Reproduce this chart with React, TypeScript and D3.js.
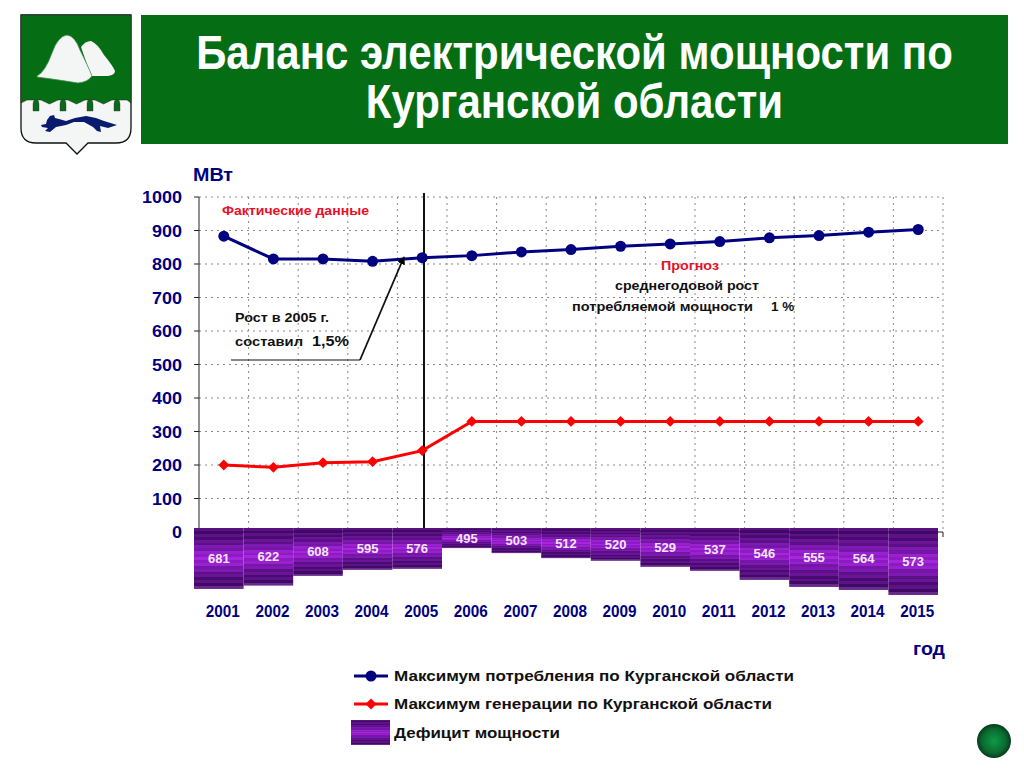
import React, { useLayoutEffect, useRef } from 'react';
import * as d3 from 'd3';

const years = ['2001','2002','2003','2004','2005','2006','2007','2008','2009','2010','2011','2012','2013','2014','2015'];
const consumption = [883, 815, 815, 808, 819, 825, 836, 843, 853, 860, 867, 878, 885, 895, 903];
const generation = [200, 193, 207, 210, 243, 330, 330, 330, 330, 330, 330, 330, 330, 330, 330];
const deficit = [681, 622, 608, 595, 576, 495, 503, 512, 520, 529, 537, 546, 555, 564, 573];
// how deep each deficit block is drawn below the zero line, in axis units (not to scale with its label)
const deficitDrawn = [170, 160, 131, 113, 110, 48, 63, 78, 86, 104, 116, 143, 164, 173, 188];
const yTicks = [0, 100, 200, 300, 400, 500, 600, 700, 800, 900, 1000];
const titleLines = ['Баланс электрической мощности по', 'Курганской области'];

const plotLeft = 199;
const plotRight = 943;
const yZero = 532;
const yTop = 197;

const x = d3.scaleBand<string>().domain(years).range([plotLeft, plotRight]);
const y = d3.scaleLinear().domain([0, 1000]).range([yZero, yTop]);
const cx = (i: number) => (x(years[i]) as number) + x.bandwidth() / 2;

const line = d3.line<number>().x((_, i) => cx(i)).y(d => y(d));
const navy = '#000080';
const sans = '"Liberation Sans", Arial, sans-serif';
const diamond = d3.symbol(d3.symbolDiamond2, 75)() as string;

// stripes of the deficit blocks: dark at the edges, bright in the middle
const stripeColors = ['#5a1080','#3f0a66','#5f1288','#480c70','#6c1498','#5c1086','#8018b4','#7416a6','#9a20d0','#8c1cc2','#a626dc','#8c1cc2','#9a20d0','#7416a6','#8018b4','#5c1086','#6c1498','#480c70','#5f1288','#3f0a66','#6a2a8c'];

const StripeGradient = ({ id }: { id: string }) => (
  <linearGradient id={id} x1="0" y1="0" x2="0" y2="1">
    {stripeColors.flatMap((c, i) => [
      <stop key={i + 'a'} offset={i / stripeColors.length} stopColor={c} />,
      <stop key={i + 'b'} offset={(i + 1) / stripeColors.length} stopColor={c} />,
    ])}
  </linearGradient>
);

// the original title font is a narrow one, so squeeze the two lines to the wanted width
const Title = ({ width }: { width: number }) => {
  const ref = useRef<SVGTextElement>(null);
  useLayoutEffect(() => {
    if (!ref.current) return;
    const k = width / ref.current.getComputedTextLength();
    ref.current.setAttribute('transform', `translate(574.5,69) scale(${k},1)`);
  }, [width]);
  return (
    <text ref={ref} textAnchor="middle" fill="#fff" fontWeight="bold" fontSize={49} transform="translate(574.5,69) scale(0.75,1)">
      <tspan x={0}>{titleLines[0]}</tspan>
      <tspan x={0} dy={49}>{titleLines[1]}</tspan>
    </text>
  );
};

const CoatOfArms = () => (
  <g>
    <path d="M21 15H131V128Q131 143 116 143H88L77 154L66 143H36Q21 143 21 128Z" fill="#f4f6f6" stroke="#111" strokeWidth="1.3" />
    <path d="M21 15H131V103L127 100H122L117 100H112L103.5 104L95 100H85L76.5 104L68 100H58L49.5 104L41 100H31L27 100L21 103Z" fill="#056e14" stroke="#222" strokeWidth="0.5" />
    {[36, 63, 90, 117].map(p => (
      <path key={p} d="M-3 111V104Q-3 100 0 99Q3 100 3 104V111Z" transform={`translate(${p},0)`} fill="#0a6a1a" stroke="#333" strokeWidth="0.4" />
    ))}
    <path d="M81 47Q85 41 91 41Q97 43 104 55Q113 66 115 71Q115 75 108 76L91 76Z" fill="#f4f6f6" />
    <path d="M37 76Q45 72 52 53Q58 36 67 35Q75 36 80 50Q88 66 92 76Q88 82 78 83Q60 80 37 77Z" fill="#f4f6f6" stroke="#3f8a4a" strokeWidth="0.8" />
    <path d="M41 125L46 124L47 120L50 116L54 115L55 118L59 119L66 121L75 118L86 116L96 118L104 121L117 125L108 128L100 126L101 132L97 131L93 127L84 122L74 122L66 125L56 127L50 132L45 131L48 128L42 127Z" fill="#0a1a6e" />
  </g>
);

export default function App() {
  const legendY = [676, 704];
  return (
    <svg width={1024} height={768} viewBox="0 0 1024 768" style={{ position: 'absolute', left: 0, top: 0, background: '#fff' }} fontFamily={sans}>
      <defs>
        <StripeGradient id="stripes" />
        <radialGradient id="btn" cx="50%" cy="50%" r="50%">
          <stop offset="0" stopColor="#0f9a48" />
          <stop offset="0.7" stopColor="#0a6a30" />
          <stop offset="1" stopColor="#063c1c" />
        </radialGradient>
        <marker id="arrow" viewBox="0 0 10 10" refX="9" refY="5" markerWidth="8" markerHeight="8" markerUnits="userSpaceOnUse" orient="auto">
          <path d="M0 0L10 5L0 10Z" fill="#000" />
        </marker>
      </defs>

      <CoatOfArms />
      <rect x={141} y={15} width={867} height={129} fill="#056e14" />
      <Title width={1174} />

      <text x={193} y={181} fontSize={18} fontWeight="bold" fill={navy} textLength={40} lengthAdjust="spacingAndGlyphs">МВт</text>

      {/* grid */}
      <g stroke="#8a8a8a" strokeWidth={1} strokeDasharray="2 4">
        {yTicks.slice(1).map(t => <line key={t} x1={plotLeft} x2={plotRight} y1={y(t)} y2={y(t)} />)}
        {years.slice(1).map(yr => <line key={yr} x1={x(yr)} x2={x(yr)} y1={yTop} y2={yZero} />)}
        <line x1={plotRight} x2={plotRight} y1={yTop} y2={yZero} />
      </g>
      <line x1={plotLeft} x2={plotLeft} y1={yTop} y2={yZero} stroke="#222" />
      <line x1={plotLeft} x2={plotRight} y1={yZero} y2={yZero} stroke="#222" />
      <line x1={plotRight} x2={plotRight} y1={yZero} y2={yZero + 5} stroke="#222" />
      {yTicks.map(t => (
        <g key={t}>
          <line x1={plotLeft - 5} x2={plotLeft} y1={y(t)} y2={y(t)} stroke="#222" />
          <text x={182} y={y(t) + 6} fontSize={16} fontWeight="bold" fill={navy} textAnchor="end" textLength={String(t).length * 10} lengthAdjust="spacingAndGlyphs">{t}</text>
        </g>
      ))}

      {/* deficit blocks */}
      {years.map((yr, i) => {
        const bx = (x(yr) as number) - 5;
        const top = yZero - 4;
        const bottom = y(0) + deficitDrawn[i] * (yZero - yTop) / 1000;
        return (
          <g key={yr}>
            <rect x={bx} y={top} width={x.bandwidth()} height={bottom - top} fill="url(#stripes)" />
            <text x={bx + x.bandwidth() / 2} y={(top + bottom) / 2 + 4.5} fontSize={13} fontWeight="bold" fill="#f4e8f8" textAnchor="middle">{deficit[i]}</text>
          </g>
        );
      })}

      {/* 2005 divider */}
      <line x1={424} x2={424} y1={193} y2={528} stroke="#111" strokeWidth={2} />

      <path d={line(generation) as string} fill="none" stroke="#ff0000" strokeWidth={3} />
      {generation.map((v, i) => (
        <path key={i} d={diamond} transform={`translate(${cx(i)},${y(v)})`} fill="#ff0000" />
      ))}
      <path d={line(consumption) as string} fill="none" stroke={navy} strokeWidth={3} />
      {consumption.map((v, i) => <circle key={i} cx={cx(i)} cy={y(v)} r={5.5} fill={navy} />)}

      {/* notes */}
      <g fontWeight="bold" fontSize={12.5} fill="#111">
        <text x={222} y={215} fill="#e8102a" textLength={147} lengthAdjust="spacingAndGlyphs">Фактические данные</text>
        <text x={235} y={322} textLength={94} lengthAdjust="spacingAndGlyphs">Рост в 2005 г.</text>
        <text x={235} y={346} textLength={68} lengthAdjust="spacingAndGlyphs">составил</text>
        <text x={312} y={346} fontSize={15} textLength={37} lengthAdjust="spacingAndGlyphs">1,5%</text>
        <text x={661} y={270} fill="#e8102a" textLength={58} lengthAdjust="spacingAndGlyphs">Прогноз</text>
        <text x={615} y={290} textLength={144} lengthAdjust="spacingAndGlyphs">среднегодовой рост</text>
        <text x={572} y={311} textLength={181} lengthAdjust="spacingAndGlyphs">потребляемой  мощности</text>
        <text x={771} y={311} fontSize={13.5}>1 %</text>
      </g>
      <path d="M231 360H360" fill="none" stroke="#111" strokeWidth={1} />
      <line x1={360} y1={360} x2={404} y2={257} stroke="#111" strokeWidth={1.8} markerEnd="url(#arrow)" />

      {years.map(yr => (
        <text key={yr} x={(x(yr) as number) + x.bandwidth() / 2 - 1} y={617} fontSize={16} fontWeight="bold" fill={navy} textAnchor="middle" textLength={34} lengthAdjust="spacingAndGlyphs">{yr}</text>
      ))}
      <text x={913} y={655} fontSize={18} fontWeight="bold" fill={navy} textLength={32} lengthAdjust="spacingAndGlyphs">год</text>

      {/* legend */}
      <line x1={354} x2={388} y1={legendY[0]} y2={legendY[0]} stroke={navy} strokeWidth={3} />
      <circle cx={371} cy={legendY[0]} r={5.5} fill={navy} />
      <line x1={354} x2={388} y1={legendY[1]} y2={legendY[1]} stroke="#ff0000" strokeWidth={3} />
      <path d={diamond} transform={`translate(371,${legendY[1]})`} fill="#ff0000" />
      <rect x={351} y={720} width={39} height={25} fill="url(#stripes)" />
      <g fontSize={15.5} fontWeight="bold" fill="#111">
        <text x={394} y={681} textLength={400} lengthAdjust="spacingAndGlyphs">Максимум потребления по Курганской области</text>
        <text x={394} y={709} textLength={378} lengthAdjust="spacingAndGlyphs">Максимум генерации по Курганской области</text>
        <text x={394} y={738} textLength={166} lengthAdjust="spacingAndGlyphs">Дефицит мощности</text>
      </g>

      <circle cx={994} cy={741} r={17} fill="url(#btn)" />
    </svg>
  );
}
